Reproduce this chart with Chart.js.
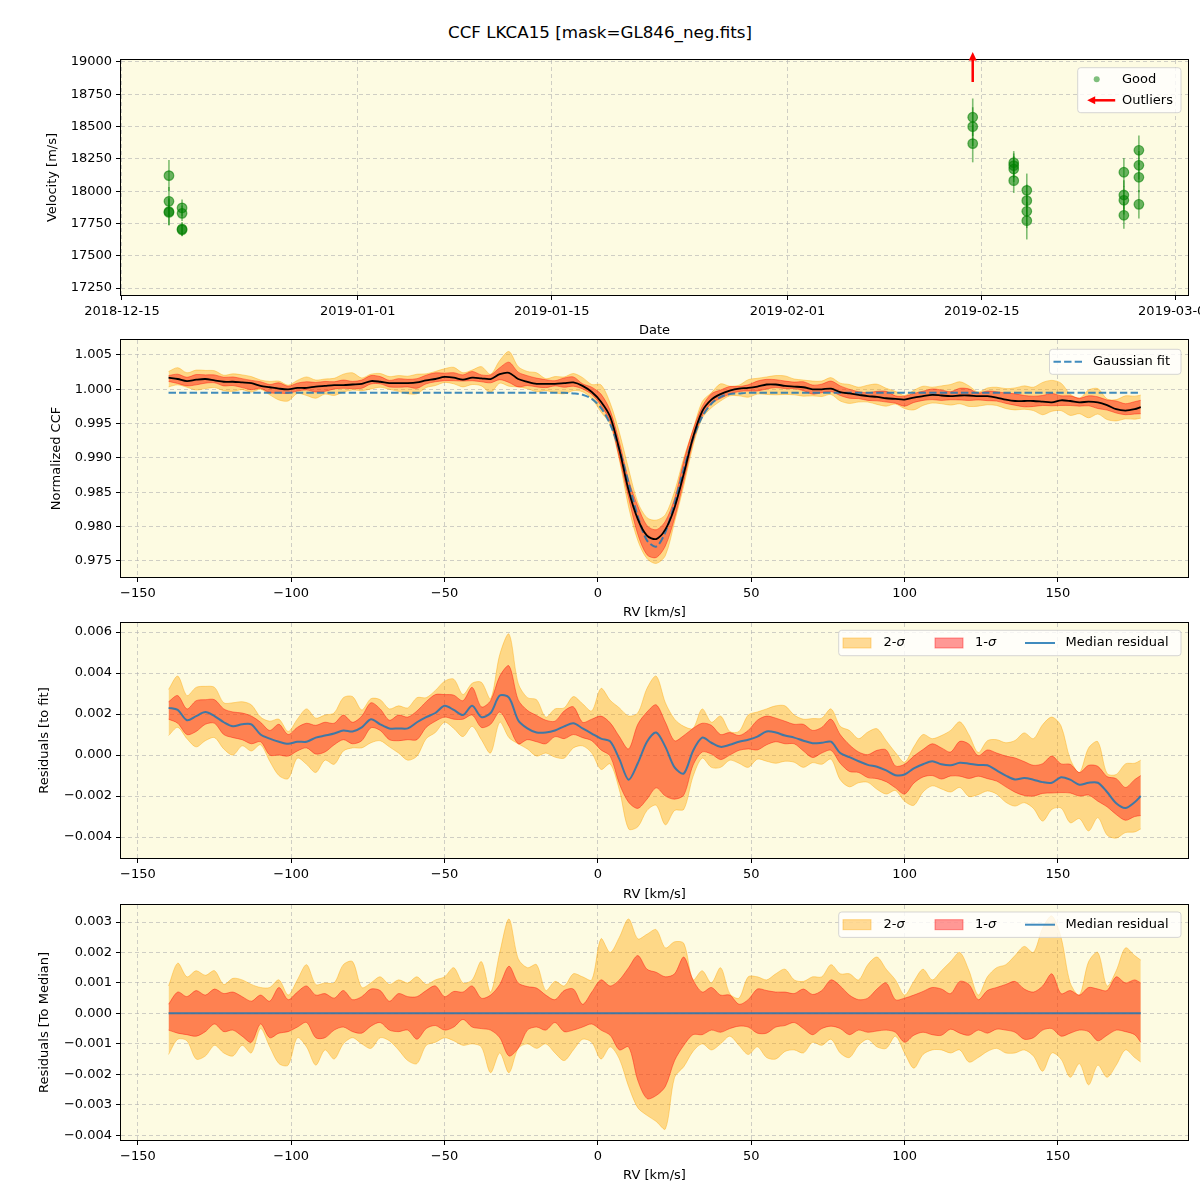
<!DOCTYPE html>
<html><head><meta charset="utf-8">
<script src="https://cdn.jsdelivr.net/npm/chart.js@4.4.1/dist/chart.umd.min.js"></script>
<style>
body{margin:0;background:#fff;width:1200px;height:1200px;position:relative;overflow:hidden;font-family:"DejaVu Sans",sans-serif;}
#title{position:absolute;left:0;width:1200px;top:22px;line-height:20px;text-align:center;font-size:16.7px;color:#000;}
canvas{position:absolute;left:0;}
</style></head><body>
<div id="title">CCF LKCA15 [mask=GL846_neg.fits]</div>
<canvas id="c1" style="top:45px" width="1200" height="293"></canvas>
<canvas id="c2" style="top:338px" width="1200" height="282"></canvas>
<canvas id="c3" style="top:620px" width="1200" height="282"></canvas>
<canvas id="c4" style="top:902px" width="1200" height="281"></canvas>
<script>
// ---------------- Panel 1 data: velocities ----------------
const obsDates = [
 '2018-12-18T09:20:00Z','2018-12-18T09:20:00Z','2018-12-18T09:20:00Z','2018-12-18T09:20:00Z',
 '2018-12-19T08:00:00Z','2018-12-19T08:00:00Z','2018-12-19T08:00:00Z','2018-12-19T08:00:00Z',
 '2019-02-14T08:25:00Z','2019-02-14T08:25:00Z','2019-02-14T08:25:00Z',
 '2019-02-17T07:25:00Z','2019-02-17T07:25:00Z','2019-02-17T07:25:00Z','2019-02-17T07:25:00Z',
 '2019-02-18T06:00:00Z','2019-02-18T06:00:00Z','2019-02-18T06:00:00Z','2019-02-18T06:00:00Z',
 '2019-02-25T06:00:00Z','2019-02-25T06:00:00Z','2019-02-25T06:00:00Z','2019-02-25T06:00:00Z',
 '2019-02-26T08:00:00Z','2019-02-26T08:00:00Z','2019-02-26T08:00:00Z','2019-02-26T08:00:00Z'];
const obsVelocity = [18120,17921,17841,17835, 17870,17828,17707,17700, 18572,18499,18368,
 18220,18197,18171,18081, 18006,17926,17844,17771, 18146,17970,17929,17813, 18316,18200,18107,17898];
const obsError = [120,110,105,100, 65,60,55,50, 145,150,145, 90,95,100,95, 130,125,130,145,
 110,115,110,105, 115,110,115,110];
const outlierDates = ['2019-02-14T08:25:00Z'];
const dateTickLabels = ['2018-12-15','2019-01-01','2019-01-15','2019-02-01','2019-02-15','2019-03-01'];
const dateAxisMin = '2018-12-14T22:20:00Z', dateAxisMax = '2019-03-01T21:00:00Z';
const velocityTicks = [17250,17500,17750,18000,18250,18500,18750,19000];

// ---------------- Panels 2-4 data: CCF ----------------
const rvGrid = [
 -140,-137,-134,-131,-128,-125,-122,-119,-116,-113,
 -110,-107,-104,-101,-98,-95,-92,-89,-86,-83,
 -80,-77,-74,-71,-68,-65,-62,-59,-56,-53,
 -50,-47,-44,-41,-38,-35,-32,-29,-26,-23,
 -20,-17,-14,-11,-8,-5,-2,1,4,7,
 10,13,16,19,22,25,28,31,34,37,
 40,43,46,49,52,55,58,61,64,67,
 70,73,76,79,82,85,88,91,94,97,
 100,103,106,109,112,115,118,121,124,127,
 130,133,136,139,142,145,148,151,154,157,
 160,163,166,169,172,175,177];
const ccfMedian = [
 1.0017,1.0015,1.0012,1.0014,1.0015,1.0013,1.0011,1.0011,1.0010,1.0009,
 1.0005,1.0003,1.0001,1.0000,1.0002,1.0002,1.0004,1.0005,1.0006,1.0006,
 1.0007,1.0008,1.0012,1.0011,1.0009,1.0009,1.0009,1.0010,1.0013,1.0015,
 1.0018,1.0017,1.0014,1.0017,1.0016,1.0015,1.0022,1.0024,1.0015,1.0011,
 1.0008,1.0008,1.0008,1.0009,1.0010,1.0005,0.9996,0.9982,0.9960,0.9912,
 0.9853,0.9811,0.9787,0.9782,0.9796,0.9828,0.9877,0.9930,0.9968,0.9985,
 0.9993,0.9998,1.0001,1.0002,1.0004,1.0007,1.0007,1.0005,1.0004,1.0003,
 1.0000,1.0000,1.0001,0.9996,0.9994,0.9992,0.9990,0.9989,0.9987,0.9986,
 0.9985,0.9988,0.9990,0.9992,0.9991,0.9990,0.9991,0.9991,0.9990,0.9990,
 0.9988,0.9985,0.9983,0.9983,0.9983,0.9982,0.9981,0.9984,0.9983,0.9981,
 0.9982,0.9981,0.9977,0.9971,0.9969,0.9971,0.9974];
const gaussFit = [
 0.9995,0.9995,0.9995,0.9995,0.9995,0.9995,0.9995,0.9995,0.9995,0.9995,
 0.9995,0.9995,0.9995,0.9995,0.9995,0.9995,0.9995,0.9995,0.9995,0.9995,
 0.9995,0.9995,0.9995,0.9995,0.9995,0.9995,0.9995,0.9995,0.9995,0.9995,
 0.9995,0.9995,0.9995,0.9995,0.9995,0.9995,0.9995,0.9995,0.9995,0.9995,
 0.9995,0.9995,0.9995,0.9995,0.9994,0.9992,0.9986,0.9973,0.9949,0.9912,
 0.9864,0.9815,0.9780,0.9771,0.9792,0.9834,0.9884,0.9928,0.9960,0.9979,
 0.9989,0.9993,0.9994,0.9995,0.9995,0.9995,0.9995,0.9995,0.9995,0.9995,
 0.9995,0.9995,0.9995,0.9995,0.9995,0.9995,0.9995,0.9995,0.9995,0.9995,
 0.9995,0.9995,0.9995,0.9995,0.9995,0.9995,0.9995,0.9995,0.9995,0.9995,
 0.9995,0.9995,0.9995,0.9995,0.9995,0.9995,0.9995,0.9995,0.9995,0.9995,
 0.9995,0.9995,0.9995,0.9995,0.9995,0.9995,0.9995];
const residMedian = [
 2.3e-3,2.2e-3,1.7e-3,1.9e-3,2.1e-3,1.9e-3,1.6e-3,1.4e-3,1.5e-3,1.5e-3,
 1.0e-3,0.8e-3,0.65e-3,0.55e-3,0.65e-3,0.65e-3,0.85e-3,0.95e-3,1.05e-3,1.2e-3,
 1.15e-3,1.35e-3,1.75e-3,1.5e-3,1.3e-3,1.3e-3,1.3e-3,1.6e-3,1.85e-3,2.05e-3,
 2.4e-3,2.2e-3,1.95e-3,2.4e-3,1.85e-3,2.05e-3,2.9e-3,2.8e-3,1.7e-3,1.3e-3,
 1.1e-3,1.1e-3,1.2e-3,1.4e-3,1.55e-3,1.3e-3,1.05e-3,0.8e-3,0.67e-3,-0.2e-3,
 -1.2e-3,-0.4e-3,0.65e-3,1.1e-3,0.4e-3,-0.6e-3,-0.9e-3,0.2e-3,0.85e-3,0.6e-3,
 0.4e-3,0.5e-3,0.65e-3,0.75e-3,0.9e-3,1.15e-3,1.1e-3,0.95e-3,0.85e-3,0.7e-3,
 0.58e-3,0.6e-3,0.65e-3,0.1e-3,-0.1e-3,-0.3e-3,-0.48e-3,-0.57e-3,-0.75e-3,-0.98e-3,
 -0.95e-3,-0.65e-3,-0.45e-3,-0.3e-3,-0.45e-3,-0.5e-3,-0.38e-3,-0.42e-3,-0.48e-3,-0.5e-3,
 -0.75e-3,-1.0e-3,-1.19e-3,-1.12e-3,-1.2e-3,-1.32e-3,-1.35e-3,-1.08e-3,-1.2e-3,-1.45e-3,
 -1.35e-3,-1.35e-3,-1.8e-3,-2.35e-3,-2.58e-3,-2.3e-3,-2.0e-3];
// spread of the residuals around their median (as in the "To Median" panel)
const sig2Hi = [
 0.9e-3,1.65e-3,1.2e-3,1.4e-3,1.25e-3,1.4e-3,0.95e-3,1.15e-3,1.1e-3,0.95e-3,
 0.85e-3,0.85e-3,1.1e-3,0.6e-3,1.1e-3,1.6e-3,0.95e-3,1.0e-3,1.0e-3,1.6e-3,
 1.7e-3,0.85e-3,1.0e-3,1.2e-3,0.95e-3,1.1e-3,1.0e-3,1.2e-3,0.95e-3,1.1e-3,
 1.2e-3,1.5e-3,1.0e-3,1.1e-3,1.7e-3,0.7e-3,2.0e-3,3.1e-3,1.8e-3,1.5e-3,
 1.6e-3,0.75e-3,1.05e-3,0.9e-3,1.3e-3,1.2e-3,1.1e-3,2.45e-3,2.0e-3,2.5e-3,
 3.1e-3,2.45e-3,2.6e-3,2.75e-3,2.15e-3,2.35e-3,2.3e-3,1.1e-3,1.4e-3,1.0e-3,
 1.5e-3,0.65e-3,0.5e-3,1.2e-3,1.2e-3,1.1e-3,1.3e-3,1.45e-3,1.1e-3,1.05e-3,
 1.2e-3,1.2e-3,1.6e-3,1.3e-3,1.3e-3,1.1e-3,1.6e-3,1.85e-3,1.45e-3,1.1e-3,
 0.6e-3,1.05e-3,1.45e-3,1.1e-3,1.4e-3,1.7e-3,2.0e-3,1.4e-3,0.6e-3,1.2e-3,
 1.5e-3,1.6e-3,1.9e-3,2.2e-3,2.0e-3,2.8e-3,3.2e-3,2.5e-3,1.0e-3,0.6e-3,
 1.7e-3,2.0e-3,0.9e-3,1.4e-3,2.15e-3,1.9e-3,1.75e-3];
const sig1Hi = [
 0.3e-3,0.7e-3,0.55e-3,0.75e-3,0.6e-3,0.8e-3,0.65e-3,0.7e-3,0.55e-3,0.4e-3,
 0.6e-3,0.4e-3,0.85e-3,0.45e-3,0.7e-3,0.9e-3,0.6e-3,0.65e-3,0.5e-3,0.75e-3,
 0.45e-3,0.55e-3,0.8e-3,0.75e-3,0.4e-3,0.65e-3,0.55e-3,0.55e-3,0.75e-3,0.9e-3,
 0.55e-3,0.72e-3,0.7e-3,0.9e-3,0.5e-3,0.6e-3,0.95e-3,1.55e-3,1.0e-3,0.88e-3,
 0.83e-3,0.6e-3,0.45e-3,0.75e-3,0.8e-3,0.3e-3,0.7e-3,1.1e-3,0.9e-3,1.1e-3,
 1.5e-3,1.9e-3,1.45e-3,1.35e-3,1.2e-3,1.3e-3,1.85e-3,1.1e-3,0.7e-3,0.85e-3,
 0.6e-3,0.6e-3,0.3e-3,0.45e-3,0.8e-3,0.75e-3,0.7e-3,0.7e-3,0.65e-3,0.8e-3,
 0.62e-3,0.75e-3,1.1e-3,0.9e-3,0.6e-3,0.45e-3,0.5e-3,0.8e-3,1.0e-3,0.45e-3,
 0.5e-3,0.6e-3,0.72e-3,0.85e-3,0.8e-3,0.65e-3,1.05e-3,0.95e-3,0.45e-3,0.75e-3,
 0.85e-3,0.95e-3,1.05e-3,0.8e-3,0.7e-3,0.9e-3,1.3e-3,0.65e-3,0.75e-3,0.6e-3,
 0.85e-3,0.8e-3,0.75e-3,1.2e-3,1.0e-3,1.1e-3,1.0e-3];
const sig1Lo = [
 -0.55e-3,-0.65e-3,-0.7e-3,-0.75e-3,-0.6e-3,-0.35e-3,-0.6e-3,-0.55e-3,-0.75e-3,-0.95e-3,
 -0.35e-3,-0.8e-3,-0.65e-3,-0.6e-3,-0.45e-3,-0.3e-3,-0.8e-3,-0.8e-3,-0.55e-3,-0.45e-3,
 -0.6e-3,-0.65e-3,-0.42e-3,-0.3e-3,-0.55e-3,-0.6e-3,-0.55e-3,-0.85e-3,-0.5e-3,-0.4e-3,
 -0.55e-3,-0.45e-3,-0.2e-3,-0.45e-3,-0.5e-3,-0.55e-3,-0.8e-3,-1.4e-3,-1.15e-3,-0.55e-3,
 -0.45e-3,-0.55e-3,-0.3e-3,-0.6e-3,-0.55e-3,-0.45e-3,-0.35e-3,-0.55e-3,-0.72e-3,-1.2e-3,
 -1.1e-3,-2.2e-3,-2.8e-3,-2.7e-3,-2.4e-3,-1.55e-3,-1.05e-3,-0.7e-3,-0.7e-3,-0.55e-3,
 -0.62e-3,-0.5e-3,-0.42e-3,-0.45e-3,-0.65e-3,-0.65e-3,-0.45e-3,-0.4e-3,-0.3e-3,-0.5e-3,
 -0.7e-3,-0.5e-3,-0.42e-3,-0.5e-3,-0.7e-3,-0.55e-3,-0.62e-3,-0.58e-3,-0.55e-3,-0.62e-3,
 -0.95e-3,-0.72e-3,-0.62e-3,-0.7e-3,-0.72e-3,-0.52e-3,-0.65e-3,-0.72e-3,-0.55e-3,-0.65e-3,
 -0.52e-3,-0.55e-3,-0.62e-3,-0.85e-3,-0.8e-3,-0.55e-3,-0.5e-3,-0.75e-3,-0.65e-3,-0.55e-3,
 -0.6e-3,-0.9e-3,-0.72e-3,-0.55e-3,-0.6e-3,-0.7e-3,-0.95e-3];
const sig2Lo = [
 -1.35e-3,-0.85e-3,-0.9e-3,-1.5e-3,-1.4e-3,-1.05e-3,-1.3e-3,-1.4e-3,-1.05e-3,-1.3e-3,
 -0.5e-3,-1.1e-3,-1.65e-3,-1.7e-3,-0.8e-3,-1.1e-3,-1.7e-3,-1.2e-3,-1.5e-3,-1.0e-3,
 -0.8e-3,-1.0e-3,-1.15e-3,-0.8e-3,-0.9e-3,-1.2e-3,-1.55e-3,-1.65e-3,-1.05e-3,-0.95e-3,
 -0.8e-3,-0.9e-3,-1.05e-3,-1.0e-3,-1.1e-3,-1.95e-3,-1.3e-3,-1.95e-3,-1.15e-3,-1.0e-3,
 -1.15e-3,-1.0e-3,-1.3e-3,-1.55e-3,-1.2e-3,-0.85e-3,-0.95e-3,-1.5e-3,-1.1e-3,-1.5e-3,
 -2.4e-3,-3.1e-3,-3.35e-3,-3.55e-3,-3.8e-3,-2.1e-3,-1.75e-3,-1.25e-3,-1.0e-3,-1.2e-3,
 -1.0e-3,-0.75e-3,-1.05e-3,-1.35e-3,-1.1e-3,-1.45e-3,-1.5e-3,-1.25e-3,-1.2e-3,-1.3e-3,
 -0.95e-3,-1.05e-3,-0.85e-3,-1.3e-3,-1.45e-3,-1.05e-3,-0.85e-3,-1.1e-3,-1.15e-3,-0.75e-3,
 -1.3e-3,-1.8e-3,-1.35e-3,-1.2e-3,-1.2e-3,-1.3e-3,-1.2e-3,-1.6e-3,-1.45e-3,-1.25e-3,
 -1.15e-3,-1.3e-3,-1.3e-3,-1.2e-3,-1.4e-3,-1.9e-3,-1.3e-3,-1.5e-3,-2.1e-3,-1.65e-3,
 -2.35e-3,-1.7e-3,-2.1e-3,-1.7e-3,-1.2e-3,-1.45e-3,-1.6e-3];
const rvTicks = [-150,-100,-50,0,50,100,150];
const ccfTicks = [0.975,0.980,0.985,0.990,0.995,1.000,1.005];
const residTicks = [-0.004,-0.002,0.000,0.002,0.004,0.006];
const medianTicks = [-0.004,-0.003,-0.002,-0.001,0.000,0.001,0.002,0.003];

// ---------------- styling ----------------
const FONT = {family: "'DejaVu Sans'", size: 13};
const BG = '#fdfbe2';
const GRID = 'rgba(176,176,176,0.6)';
const ORANGE_A = 'rgba(255,165,0,0.4)';
const RED_A = 'rgba(255,0,0,0.4)';
const BLUE_A = 'rgba(31,119,180,0.85)';
const GREEN_A = 'rgba(0,128,0,0.5)';
const GREEN_PT = 'rgba(0,128,0,0.58)';
const SMOOTH = 0.3;
const uminus = s => s.replace('-', '\u2212');
const fmtFixed = d => v => { const r = Math.abs(v) < 1e-12 ? 0 : v; return uminus(r.toFixed(d)); };

const frame = {
  id: 'frame',
  beforeDraw(c) { const a = c.chartArea, x = c.ctx; x.save(); x.fillStyle = BG;
    x.fillRect(a.left, a.top, a.right - a.left, a.bottom - a.top); x.restore(); },
  afterDraw(c) { const a = c.chartArea, x = c.ctx; x.save(); x.strokeStyle = '#000'; x.lineWidth = 1;
    x.strokeRect(Math.round(a.left) - 0.5, Math.round(a.top) - 0.5, Math.round(a.right - a.left) + 1, Math.round(a.bottom - a.top) + 1); x.restore(); }
};

function yScale(min, max, ticks, fmt, title, titlePad) {
  return { type: 'linear', position: 'left', min, max,
    afterBuildTicks: s => { s.ticks = ticks.map(v => ({value: v})); },
    afterFit: s => { s.width = 121; s.paddingTop = 0; s.paddingBottom = 0; },
    ticks: { callback: fmt, color: '#000', font: FONT, padding: 4, autoSkip: false },
    grid: { color: GRID, lineWidth: 1, tickLength: 5, tickColor: '#000', tickWidth: 1, tickBorderDash: [] },
    border: { display: false, dash: [4, 3] },
    title: { display: true, text: title, color: '#000', font: FONT, padding: {top: titlePad, bottom: 0} } };
}
function xScale(min, max, ticks, fmt, title, height) {
  return { type: 'linear', position: 'bottom', min, max,
    afterBuildTicks: s => { s.ticks = ticks.map(v => ({value: v})); },
    afterFit: s => { s.height = height; s.paddingLeft = 0; s.paddingRight = 0; },
    ticks: { callback: fmt, color: '#000', font: FONT, padding: 4, autoSkip: false, maxRotation: 0 },
    grid: { color: GRID, lineWidth: 1, tickLength: 5, tickColor: '#000', tickWidth: 1, tickBorderDash: [] },
    border: { display: false, dash: [4, 3] },
    title: { display: true, text: title, color: '#000', font: FONT, padding: {top: 0, bottom: 0} } };
}
function baseOptions(padTop, scales, plugins) {
  return { responsive: false, animation: false, events: [],
    layout: { padding: { top: padTop, right: 12, left: 0, bottom: 0 } },
    plugins: Object.assign({ legend: {display: false}, tooltip: {enabled: false} }, plugins || {}),
    scales };
}
function legendFrame(ctx, x, y, w, h) {
  ctx.save(); ctx.beginPath(); ctx.roundRect(x, y, w, h, 3);
  ctx.fillStyle = 'rgba(255,255,255,0.8)'; ctx.fill();
  ctx.strokeStyle = 'rgba(204,204,204,0.8)'; ctx.lineWidth = 1; ctx.stroke(); ctx.restore();
}
function legendText(ctx, txt, x, y) {
  ctx.save(); ctx.fillStyle = '#000'; ctx.font = "13px 'DejaVu Sans'"; ctx.textBaseline = 'middle';
  ctx.fillText(txt, x, y); ctx.restore();
}
function sigmaText(ctx, n, x, y) {
  ctx.save(); ctx.fillStyle = '#000'; ctx.textBaseline = 'middle';
  ctx.font = "13px 'DejaVu Sans'"; const lead = n + '-'; ctx.fillText(lead, x, y);
  const w = ctx.measureText(lead).width; ctx.font = "italic 13px 'DejaVu Sans'"; ctx.fillText('\u03c3', x + w, y);
  ctx.restore();
}

// ---------------- Panel 1 ----------------
const day0 = Date.parse('2018-12-15T00:00:00Z');
const toDays = s => (Date.parse(s) - day0) / 864e5;
const dateTickDays = dateTickLabels.map(d => toDays(d + 'T00:00:00Z'));
const goodPoints = obsDates.map((d, i) => ({x: toDays(d), y: obsVelocity[i]}));

const errorBars = { id: 'errorBars', beforeDatasetsDraw(c) {
  const xs = c.scales.x, ys = c.scales.y, ctx = c.ctx; ctx.save();
  ctx.strokeStyle = GREEN_A; ctx.lineWidth = 1.6;
  obsDates.forEach((d, i) => { const px = xs.getPixelForValue(toDays(d));
    ctx.beginPath(); ctx.moveTo(px, ys.getPixelForValue(obsVelocity[i] - obsError[i]));
    ctx.lineTo(px, ys.getPixelForValue(obsVelocity[i] + obsError[i])); ctx.stroke(); });
  ctx.restore(); } };
const outlierArrows = { id: 'outlierArrows', afterDraw(c) {
  const xs = c.scales.x, a = c.chartArea, ctx = c.ctx; ctx.save();
  ctx.strokeStyle = 'red'; ctx.fillStyle = 'red'; ctx.lineWidth = 2.5;
  outlierDates.forEach(d => { const px = xs.getPixelForValue(toDays(d));
    ctx.beginPath(); ctx.moveTo(px, a.top + 22); ctx.lineTo(px, a.top - 1); ctx.stroke();
    ctx.beginPath(); ctx.moveTo(px, a.top - 8); ctx.lineTo(px - 4, a.top + 0.5); ctx.lineTo(px + 4, a.top + 0.5); ctx.closePath(); ctx.fill(); });
  ctx.restore(); } };
const legend1 = { id: 'legend1', afterDraw(c) {
  const a = c.chartArea, ctx = c.ctx; const r = a.right - 7, t = a.top + 7.7, w = 103.3, h = 45;
  legendFrame(ctx, r - w, t, w, h);
  ctx.save(); ctx.fillStyle = GREEN_A; ctx.beginPath(); ctx.arc(r - w + 19, t + 11.6, 3, 0, Math.PI * 2); ctx.fill(); ctx.restore();
  legendText(ctx, 'Good', r - w + 44.3, t + 11.6);
  ctx.save(); ctx.strokeStyle = 'red'; ctx.fillStyle = 'red'; ctx.lineWidth = 2.5;
  const ay = t + 32.6, ax0 = r - w + 37.5, ax1 = r - w + 9.5;
  ctx.beginPath(); ctx.moveTo(ax0, ay); ctx.lineTo(ax1 + 6, ay); ctx.stroke();
  ctx.beginPath(); ctx.moveTo(ax1, ay); ctx.lineTo(ax1 + 8, ay - 4); ctx.lineTo(ax1 + 8, ay + 4); ctx.closePath(); ctx.fill(); ctx.restore();
  legendText(ctx, 'Outliers', r - w + 44.3, ay); } };

new Chart(document.getElementById('c1'), {
  type: 'scatter',
  data: { datasets: [{ data: goodPoints, pointRadius: 4.8, pointBackgroundColor: GREEN_PT, pointBorderColor: GREEN_PT, pointBorderWidth: 1.2 }] },
  options: baseOptions(15, {
    x: xScale(toDays(dateAxisMin), toDays(dateAxisMax), dateTickDays, (v, i) => dateTickLabels[i], 'Date', 43),
    y: yScale(17196, 19015, velocityTicks, v => String(v), 'Velocity [m/s]', 45) }),
  plugins: [frame, errorBars, outlierArrows, legend1]
});

// ---------------- Panels 2-4 ----------------
const pts = ys => rvGrid.map((x, i) => ({x, y: ys[i]}));
const plus = (base, off) => base.map((v, i) => v + off[i]);
const lineDs = (ys, color, width, dash) => ({ data: pts(ys), borderColor: color, borderWidth: width, borderDash: dash || [], pointRadius: 0, fill: false, tension: SMOOTH });
function bandDatasets(center) {
  return [
    { data: pts(plus(center, sig1Hi)), borderColor: RED_A, backgroundColor: RED_A, borderWidth: 1, pointRadius: 0, fill: '+1', tension: SMOOTH },
    { data: pts(plus(center, sig1Lo)), borderColor: RED_A, borderWidth: 1, pointRadius: 0, fill: false, tension: SMOOTH },
    { data: pts(plus(center, sig2Hi)), borderColor: ORANGE_A, backgroundColor: ORANGE_A, borderWidth: 1, pointRadius: 0, fill: '+1', tension: SMOOTH },
    { data: pts(plus(center, sig2Lo)), borderColor: ORANGE_A, borderWidth: 1, pointRadius: 0, fill: false, tension: SMOOTH } ];
}
const rvFmt = v => uminus(String(Math.round(v)));

const legend2 = { id: 'legend2', afterDraw(c) {
  const a = c.chartArea, ctx = c.ctx; const r = a.right - 7, t = a.top + 9.3, w = 131.5, h = 25;
  legendFrame(ctx, r - w, t, w, h);
  ctx.save(); ctx.strokeStyle = BLUE_A; ctx.lineWidth = 2; ctx.setLineDash([7.4, 3.2]);
  ctx.beginPath(); ctx.moveTo(r - w + 4, t + 12.5); ctx.lineTo(r - w + 32.5, t + 12.5); ctx.stroke(); ctx.restore();
  legendText(ctx, 'Gaussian fit', r - w + 43.5, t + 12.5); } };
function residLegend(topOff) {
  return { id: 'residLegend', afterDraw(c) {
    const a = c.chartArea, ctx = c.ctx; const r = a.right - 7, t = a.top + topOff, w = 342.3, h = 25.4, L = r - w, cy = t + h / 2;
    legendFrame(ctx, L, t, w, h);
    ctx.save();
    ctx.fillStyle = ORANGE_A; ctx.strokeStyle = ORANGE_A; ctx.fillRect(L + 4.3, cy - 5, 28, 10); ctx.strokeRect(L + 4.3, cy - 5, 28, 10);
    ctx.fillStyle = RED_A; ctx.strokeStyle = RED_A; ctx.fillRect(L + 96.3, cy - 5, 28, 10); ctx.strokeRect(L + 96.3, cy - 5, 28, 10);
    ctx.strokeStyle = BLUE_A; ctx.lineWidth = 2; ctx.beginPath(); ctx.moveTo(L + 186.3, cy); ctx.lineTo(L + 216.3, cy); ctx.stroke();
    ctx.restore();
    sigmaText(ctx, '2', L + 44.8, cy); sigmaText(ctx, '1', L + 136.3, cy);
    legendText(ctx, 'Median residual', L + 226.9, cy); } };
}

new Chart(document.getElementById('c2'), {
  type: 'line',
  data: { datasets: [ lineDs(ccfMedian, '#000', 1.8), lineDs(gaussFit, BLUE_A, 2, [7.4, 3.2]), ...bandDatasets(ccfMedian) ] },
  options: baseOptions(2, {
    x: xScale(-155.5, 192.4, rvTicks, rvFmt, 'RV [km/s]', 43),
    y: yScale(0.97267, 1.00718, ccfTicks, fmtFixed(3), 'Normalized CCF', 49) }),
  plugins: [frame, legend2]
});

new Chart(document.getElementById('c3'), {
  type: 'line',
  data: { datasets: [ lineDs(residMedian, BLUE_A, 2), ...bandDatasets(residMedian) ] },
  options: baseOptions(3, {
    x: xScale(-155.5, 192.4, rvTicks, rvFmt, 'RV [km/s]', 44),
    y: yScale(-0.00502, 0.00644, residTicks, fmtFixed(3), 'Residuals [to fit]', 37) }),
  plugins: [frame, residLegend(7.3)]
});

const medianZero = rvGrid.map(() => 0);
new Chart(document.getElementById('c4'), {
  type: 'line',
  data: { datasets: [ lineDs(medianZero, BLUE_A, 2), ...bandDatasets(medianZero) ] },
  options: baseOptions(3, {
    x: xScale(-155.5, 192.4, rvTicks, rvFmt, 'RV [km/s]', 43),
    y: yScale(-0.00416, 0.00356, medianTicks, fmtFixed(3), 'Residuals [To Median]', 37) }),
  plugins: [frame, residLegend(7)]
});
</script>
</body></html>
